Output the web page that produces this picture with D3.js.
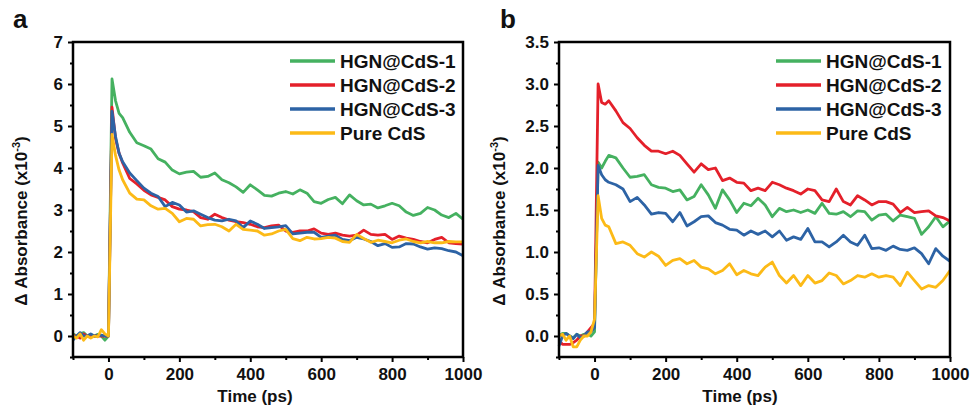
<!DOCTYPE html>
<html>
<head>
<meta charset="utf-8">
<script src="https://cdn.jsdelivr.net/npm/d3@7"></script>
<style>
  html, body { margin: 0; padding: 0; background: #ffffff; }
  svg { display: block; }
  text { font-family: "Liberation Sans", Arial, sans-serif; font-weight: bold; fill: #111; }
</style>
</head>
<body>
<svg id="chart" width="970" height="409"></svg>
<script>
// ---- data ----
const time = [-100,-90,-80,-70,-60,-50,-40,-30,-20,-10,0,10,20,30,40,
  60,80,100,120,140,160,180,200,220,240,260,280,300,320,340,360,380,400,420,440,460,480,500,
  520,540,560,580,600,620,640,660,680,700,720,740,760,780,800,820,840,860,880,900,920,940,960,980,1000];

const seriesNames = ["HGN@CdS-1", "HGN@CdS-2", "HGN@CdS-3", "Pure CdS"];

// panel a
const aCdS1 = [0.05,0.0,0.05,0.08,0.0,0.03,0.0,0.04,0.0,-0.1,0.0,6.12,5.6,5.3,5.2,
  4.85,4.6,4.53,4.45,4.22,4.14,3.95,3.86,3.9,3.92,3.78,3.8,3.88,3.72,3.65,3.55,3.42,3.6,3.48,3.35,3.33,3.4,3.44,
  3.38,3.48,3.4,3.2,3.16,3.25,3.3,3.15,3.36,3.22,3.12,3.14,3.05,3.1,3.16,3.1,2.95,2.87,2.92,3.06,3.0,2.88,2.82,2.92,2.78];
const aCdS2 = [0.0,0.0,-0.05,0.05,0.0,0.0,0.0,0.0,0.0,0.0,0.0,5.45,4.7,4.35,4.12,
  3.75,3.62,3.47,3.36,3.3,3.24,3.08,3.02,3.0,2.96,2.82,2.78,2.9,2.82,2.76,2.72,2.7,2.66,2.6,2.58,2.62,2.64,2.5,
  2.47,2.5,2.5,2.55,2.45,2.42,2.45,2.4,2.38,2.4,2.52,2.42,2.4,2.42,2.3,2.38,2.33,2.3,2.25,2.22,2.3,2.35,2.22,2.2,2.19];
const aCdS3 = [-0.1,0.0,0.08,0.0,0.0,0.05,0.0,0.0,0.02,0.0,0.0,5.35,4.75,4.35,4.15,
  3.88,3.7,3.52,3.4,3.32,3.08,3.18,3.12,2.95,2.98,2.9,2.82,2.76,2.74,2.78,2.74,2.58,2.74,2.66,2.56,2.58,2.6,2.63,
  2.43,2.45,2.47,2.47,2.35,2.38,2.4,2.3,2.27,2.35,2.31,2.25,2.15,2.2,2.11,2.12,2.2,2.19,2.12,2.07,2.1,2.08,2.03,2.0,1.91];
const aPure = [0.0,-0.05,0.05,-0.1,0.0,-0.05,0.0,-0.02,0.15,0.05,0.0,4.8,4.3,3.95,3.72,
  3.4,3.26,3.24,3.1,3.02,3.04,2.92,2.72,2.8,2.78,2.62,2.65,2.66,2.6,2.5,2.66,2.54,2.52,2.5,2.4,2.43,2.5,2.54,
  2.32,2.27,2.35,2.31,2.32,2.35,2.33,2.25,2.23,2.42,2.32,2.23,2.28,2.25,2.22,2.28,2.31,2.25,2.22,2.25,2.22,2.22,2.25,2.24,2.24];

// panel b
const bCdS1 = [0.0,0.03,0.03,0.0,-0.02,0.02,0.0,0.02,0.03,0.0,0.05,2.07,2.0,2.08,2.15,
  2.12,2.0,1.89,1.9,1.92,1.8,1.77,1.76,1.72,1.74,1.62,1.66,1.8,1.68,1.52,1.74,1.62,1.47,1.58,1.55,1.64,1.56,1.42,
  1.52,1.48,1.5,1.47,1.5,1.46,1.58,1.46,1.45,1.48,1.42,1.49,1.48,1.38,1.44,1.45,1.37,1.44,1.42,1.4,1.21,1.3,1.42,1.3,1.37];
const bCdS2 = [-0.05,-0.1,-0.1,-0.1,-0.08,-0.05,0.0,0.0,0.05,0.1,0.15,3.0,2.78,2.76,2.8,
  2.68,2.54,2.47,2.36,2.27,2.2,2.2,2.17,2.2,2.15,2.05,1.95,2.05,1.98,2.0,1.85,1.88,1.83,1.82,1.73,1.76,1.73,1.83,
  1.8,1.76,1.73,1.69,1.75,1.73,1.62,1.6,1.75,1.6,1.56,1.67,1.62,1.56,1.6,1.6,1.57,1.47,1.53,1.47,1.48,1.49,1.43,1.41,1.37];
const bCdS3 = [-0.12,0.0,0.03,0.0,-0.03,0.02,-0.02,0.0,0.05,0.05,0.1,2.03,1.92,1.86,1.83,
  1.8,1.75,1.6,1.65,1.56,1.45,1.47,1.46,1.36,1.47,1.31,1.36,1.42,1.43,1.35,1.32,1.27,1.26,1.2,1.25,1.21,1.25,1.18,
  1.25,1.14,1.18,1.15,1.28,1.12,1.12,1.06,1.12,1.2,1.12,1.08,1.2,1.04,1.05,1.02,1.07,1.03,1.02,1.05,0.98,0.86,1.04,0.95,0.89];
const bPure = [0.0,0.02,-0.05,0.0,-0.13,-0.13,-0.05,0.0,0.0,0.05,0.2,1.67,1.4,1.32,1.3,
  1.1,1.12,1.08,0.98,0.94,1.0,0.95,0.84,0.9,0.92,0.86,0.9,0.82,0.8,0.74,0.78,0.86,0.73,0.78,0.74,0.72,0.82,0.88,
  0.72,0.63,0.72,0.6,0.72,0.63,0.66,0.75,0.72,0.62,0.66,0.72,0.7,0.74,0.7,0.72,0.7,0.6,0.76,0.66,0.56,0.6,0.58,0.66,0.78];

const xTicks = [0, 200, 400, 600, 800, 1000];
const xMinor = [-100, 100, 300, 500, 700, 900];
const aYTicks = [0, 1, 2, 3, 4, 5, 6, 7];
const aYMinor = [-0.5, 0.5, 1.5, 2.5, 3.5, 4.5, 5.5, 6.5];
const bYTicks = [0.0, 0.5, 1.0, 1.5, 2.0, 2.5, 3.0, 3.5];
const bYMinor = [-0.25, 0.25, 0.75, 1.25, 1.75, 2.25, 2.75, 3.25];

const colors = ["#45b160", "#e4202a", "#2d63a5", "#fcba17"];

// ---- drawing ----
const svg = d3.select("#chart");

function drawPanel(opt) {
  const x = d3.scaleLinear().domain([-100, 1000]).range([opt.left, opt.right]);
  const y = d3.scaleLinear().domain(opt.yDomain).range([357, 42]);
  const g = svg.append("g");

  // lines
  const line = d3.line().x((d, i) => x(time[i])).y(d => y(d));
  opt.series.forEach((s, k) => {
    g.append("path").datum(s)
      .attr("fill", "none")
      .attr("stroke", colors[k])
      .attr("stroke-width", 2.8)
      .attr("stroke-linejoin", "round")
      .attr("d", line);
  });

  // frame
  g.append("rect")
    .attr("x", opt.left).attr("y", 42)
    .attr("width", opt.right - opt.left).attr("height", 315)
    .attr("fill", "none").attr("stroke", "#000").attr("stroke-width", 2.5);

  // x axis
  const xa = g.append("g").attr("transform", "translate(0,357)")
    .call(d3.axisBottom(x).tickValues(xTicks).tickSize(5).tickPadding(6).tickFormat(d3.format("d")));
  const xm = g.append("g").attr("transform", "translate(0,357)")
    .call(d3.axisBottom(x).tickValues(xMinor).tickSize(3).tickFormat(""));
  // y axis
  const ya = g.append("g").attr("transform", `translate(${opt.left},0)`)
    .call(d3.axisLeft(y).tickValues(opt.yTicks).tickSize(5).tickPadding(5).tickFormat(opt.yFormat));
  const ym = g.append("g").attr("transform", `translate(${opt.left},0)`)
    .call(d3.axisLeft(y).tickValues(opt.yMinor).tickSize(3).tickFormat(""));
  [xa, xm, ya, ym].forEach(a => {
    a.select(".domain").remove();
    a.selectAll(".tick line").attr("stroke", "#000").attr("stroke-width", 2);
    a.selectAll(".tick text").attr("font-size", 17).attr("font-family", "Liberation Sans, Arial, sans-serif")
      .attr("font-weight", "bold").attr("fill", "#111");
  });

  // axis titles
  g.append("text").attr("x", opt.xTitleX).attr("y", 402)
    .attr("text-anchor", "middle").attr("font-size", 17).text("Time (ps)");
  const yt = g.append("text")
    .attr("transform", `translate(${opt.yTitleX},221) rotate(-90)`)
    .attr("text-anchor", "middle").attr("font-size", 17);
  yt.append("tspan").text("Δ Absorbance (x10");
  yt.append("tspan").attr("font-size", 11).attr("dy", -7).text("-3");
  yt.append("tspan").attr("dy", 7).text(")");

  // panel label
  g.append("text").attr("x", opt.labelX).attr("y", 28)
    .attr("font-size", 26).text(opt.label);

  // legend
  seriesNames.forEach((name, k) => {
    const cy = 61 + k * 24;
    g.append("line")
      .attr("x1", opt.legX).attr("x2", opt.legX + 45)
      .attr("y1", cy).attr("y2", cy)
      .attr("stroke", colors[k]).attr("stroke-width", 3.5);
    g.append("text").attr("x", opt.legX + 50).attr("y", cy + 6.5)
      .attr("font-size", 19).text(name);
  });
}

drawPanel({
  left: 73, right: 463, yDomain: [-0.5, 7],
  yTicks: aYTicks, yMinor: aYMinor, yFormat: d3.format("d"),
  series: [aCdS1, aCdS2, aCdS3, aPure],
  xTitleX: 255, yTitleX: 27, label: "a", labelX: 13, legX: 290
});
drawPanel({
  left: 559, right: 950, yDomain: [-0.25, 3.5],
  yTicks: bYTicks, yMinor: bYMinor, yFormat: d3.format(".1f"),
  series: [bCdS1, bCdS2, bCdS3, bPure],
  xTitleX: 740, yTitleX: 505, label: "b", labelX: 500, legX: 776
});
</script>
</body>
</html>
